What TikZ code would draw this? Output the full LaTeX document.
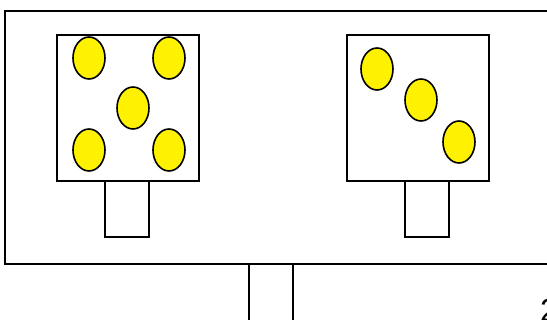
\documentclass[tikz,border=0pt]{standalone}
\usepackage{fontspec}
\setmainfont{Liberation Sans}
\usetikzlibrary{shapes.geometric}
\begin{document}
\begin{tikzpicture}[x=1pt,y=-1pt,
  box/.style={draw=black,line width=2pt,fill=white,inner sep=0pt,outer sep=0pt,rectangle},
  pip/.style={draw=black,line width=1.6pt,fill=yellow,ellipse,inner sep=0pt,minimum width=32pt,minimum height=42pt}]
\useasboundingbox (0,0) rectangle (547,320);
\clip (0,0) rectangle (547,320);
% outer frame and its stem
\node[box,minimum width=44pt,minimum height=80pt] (stem) at (271,304) {};
\node[box,minimum width=555pt,minimum height=253pt] (frame) at (282.5,137.5) {};
% left die
\node[box,minimum width=44pt,minimum height=56pt] (lstem) at (127,209) {};
\node[box,minimum width=142pt,minimum height=146pt] (left) at (128,108) {};
\node[pip] (l1) at (89,58) {};
\node[pip] (l2) at (169,58) {};
\node[pip] (l3) at (133,108) {};
\node[pip] (l4) at (89,150) {};
\node[pip] (l5) at (169,150) {};
% right die
\node[box,minimum width=44pt,minimum height=56pt] (rstem) at (427,209) {};
\node[box,minimum width=142pt,minimum height=146pt] (right) at (418,108) {};
\node[pip] (r1) at (377,69) {};
\node[pip] (r2) at (421,100) {};
\node[pip] (r3) at (459,142) {};
% label
\node[anchor=base west,inner sep=0pt,font=\fontsize{32}{36}\selectfont] (lbl) at (540,322) {2};
\end{tikzpicture}
\end{document}
